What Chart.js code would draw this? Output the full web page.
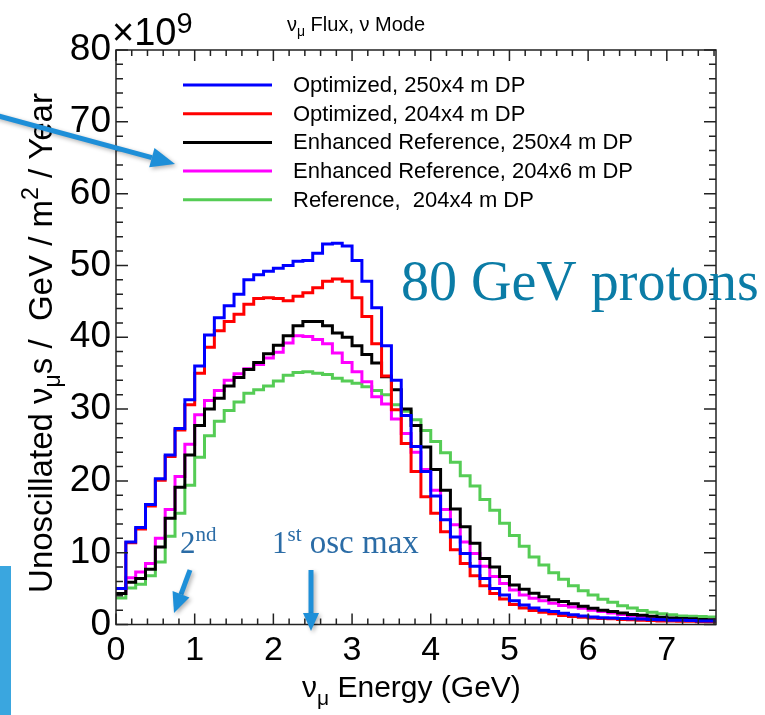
<!DOCTYPE html>
<html>
<head>
<meta charset="utf-8">
<script src="https://cdn.jsdelivr.net/npm/chart.js@4.4.0/dist/chart.umd.min.js"></script>
<style>
  body { margin: 0; background: #fff; }
  #wrap { position: relative; width: 765px; height: 715px; }
</style>
</head>
<body>
<div id="wrap"><canvas id="flux" width="765" height="715"></canvas></div>
<script>
// histogram binning (GeV)
const binWidth = 0.125;
const xMax = 7.625;

const seriesNames = [
    'Optimized, 250x4 m DP',
    'Optimized, 204x4 m DP',
    'Enhanced Reference, 250x4 m DP',
    'Enhanced Reference, 204x6 m DP',
    'Reference,  204x4 m DP'
];
const seriesColors = ['#0000ff', '#ff0000', '#000000', '#ff00ff', '#55cc55'];

// flux per bin, units of 1e9
const optimized250 = [5.0, 11.5, 13.5, 16.7, 20.3, 23.6, 27.3, 31.3, 36.0, 40.3,
    42.7, 44.4, 46.0, 48.0, 48.7, 49.2, 49.6, 50.0, 50.6, 50.7,
    51.7, 53.0, 53.1, 52.7, 50.7, 47.8, 44.1, 38.8, 34.0, 29.1,
    24.8, 21.3, 17.9, 14.6, 12.2, 9.9, 8.1, 6.4, 5.0, 4.1,
    3.3, 2.7, 2.3, 2.0, 1.8, 1.55, 1.35, 1.2, 1.05, 0.95,
    0.9, 0.85, 0.8, 0.75, 0.7, 0.65, 0.6, 0.6, 0.55, 0.5, 0.5];
const optimized204 = [5.0, 11.4, 13.3, 16.5, 20.1, 23.4, 27.1, 30.6, 35.0, 38.6,
    40.9, 42.2, 43.2, 44.6, 45.4, 45.5, 45.4, 45.1, 45.7, 46.2,
    46.9, 47.8, 48.1, 47.8, 45.5, 42.9, 39.1, 34.6, 29.9, 25.2,
    21.3, 17.8, 15.5, 12.9, 10.4, 8.5, 6.8, 5.4, 4.3, 3.55,
    2.8, 2.3, 1.95, 1.7, 1.5, 1.25, 1.1, 1.0, 0.9, 0.85,
    0.8, 0.7, 0.65, 0.6, 0.55, 0.5, 0.5, 0.45, 0.45, 0.4, 0.4];
const enhanced250 = [4.3, 5.9, 6.4, 7.7, 10.8, 14.8, 19.1, 23.6, 27.7, 30.0,
    31.5, 33.2, 34.4, 35.5, 36.5, 37.7, 38.9, 40.2, 41.6, 42.2,
    42.2, 41.6, 40.6, 40.0, 38.8, 37.6, 36.4, 34.5, 32.7, 30.0,
    27.7, 24.7, 21.6, 18.7, 16.1, 13.6, 11.3, 9.2, 8.0, 6.7,
    5.5, 4.9, 4.35, 3.85, 3.45, 3.2, 2.9, 2.55, 2.25, 2.0,
    1.8, 1.6, 1.4, 1.3, 1.15, 1.0, 0.9, 0.85, 0.8, 0.7, 0.65];
const enhanced204 = [4.3, 6.5, 7.3, 8.5, 12.0, 16.0, 20.6, 25.1, 29.2, 31.2,
    32.6, 34.0, 34.9, 35.6, 36.2, 37.1, 37.9, 39.2, 40.2, 40.1,
    39.7, 39.1, 37.8, 36.5, 35.2, 33.8, 31.7, 30.7, 28.6, 26.6,
    24.0, 21.6, 18.7, 16.0, 13.9, 11.5, 9.9, 8.1, 6.7, 5.7,
    4.8, 4.1, 3.65, 3.3, 2.95, 2.65, 2.45, 2.25, 2.0, 1.8,
    1.6, 1.4, 1.25, 1.1, 1.0, 0.9, 0.85, 0.75, 0.7, 0.65, 0.6];
const reference204 = [3.7, 5.1, 5.6, 6.8, 8.7, 12.3, 15.5, 19.4, 23.3, 26.3,
    28.3, 29.8, 31.0, 32.2, 32.7, 33.2, 33.9, 34.7, 35.1, 35.2,
    35.0, 34.8, 34.3, 33.9, 33.6, 33.1, 32.6, 32.0, 30.6, 29.7,
    28.5, 27.0, 25.5, 23.9, 22.6, 20.7, 19.3, 17.4, 15.9, 14.1,
    12.4, 10.9, 9.4, 8.3, 7.2, 6.3, 5.4, 4.7, 4.1, 3.5,
    3.1, 2.6, 2.3, 1.95, 1.7, 1.5, 1.35, 1.2, 1.15, 1.1, 1.05];

const yTickLabels = [0, 10, 20, 30, 40, 50, 60, 70, 80];
const xTickLabels = [0, 1, 2, 3, 4, 5, 6, 7];

const allSeries = [optimized250, optimized204, enhanced250, enhanced204, reference204];

// bin lower edges, plus closing point at the last upper edge
var toSteps = function(values) {
    const pts = values.map((v, i) => ({ x: i * binWidth, y: v }));
    pts.push({ x: values.length * binWidth, y: values[values.length - 1] });
    return pts;
};

var drawParts = function(ctx, parts, x, y, center) {
    let total = 0;
    parts.forEach(p => { ctx.font = p.font; total += ctx.measureText(p.t).width; });
    if (center) x -= total / 2;
    parts.forEach(p => {
        ctx.font = p.font;
        ctx.fillText(p.t, x, y + (p.dy || 0));
        x += ctx.measureText(p.t).width;
    });
};

var arrow = function(ctx, x1, y1, x2, y2, head, half) {
    const ang = Math.atan2(y2 - y1, x2 - x1);
    const bx = x2 - head * Math.cos(ang), by = y2 - head * Math.sin(ang);
    ctx.beginPath();
    ctx.moveTo(x1, y1);
    ctx.lineTo(bx, by);
    ctx.stroke();
    ctx.beginPath();
    ctx.moveTo(x2, y2);
    ctx.lineTo(bx + half * Math.sin(ang), by - half * Math.cos(ang));
    ctx.lineTo(bx - half * Math.sin(ang), by + half * Math.cos(ang));
    ctx.closePath();
    ctx.fill();
};

const framePlugin = {
    id: 'framePlugin',
    beforeDraw(chart) {
        const ctx = chart.ctx;
        ctx.save();
        ctx.fillStyle = '#ffffff';
        ctx.fillRect(0, 0, chart.width, chart.height);
        // slide background strip
        ctx.fillStyle = '#3aa6df';
        ctx.fillRect(0, 566, 11, 149);
        ctx.restore();
    },
    afterDraw(chart) {
        const { ctx, chartArea: a, scales: { x, y } } = chart;
        ctx.save();
        ctx.strokeStyle = '#222';
        ctx.lineWidth = 1.5;
        ctx.strokeRect(a.left, a.top, a.right - a.left, a.bottom - a.top);
        // inward ticks on all four sides
        ctx.beginPath();
        for (let i = 0; i <= 38; i++) {
            const px = x.getPixelForValue(i * 0.2);
            const len = i % 5 === 0 ? 11 : 6;
            ctx.moveTo(px, a.bottom); ctx.lineTo(px, a.bottom - len);
            ctx.moveTo(px, a.top); ctx.lineTo(px, a.top + len);
        }
        for (let i = 0; i <= 40; i++) {
            const py = y.getPixelForValue(i * 2);
            const len = i % 5 === 0 ? 12 : 7;
            ctx.moveTo(a.left, py); ctx.lineTo(a.left + len, py);
            ctx.moveTo(a.right, py); ctx.lineTo(a.right - len, py);
        }
        ctx.stroke();

        // legend
        ctx.textBaseline = 'middle';
        ctx.font = '22px "Liberation Sans"';
        seriesNames.forEach((name, i) => {
            const ly = 85 + i * 28.7;
            ctx.strokeStyle = seriesColors[i];
            ctx.lineWidth = 3;
            ctx.beginPath();
            ctx.moveTo(183, ly); ctx.lineTo(272, ly);
            ctx.stroke();
            ctx.fillStyle = '#000';
            ctx.fillText(name, 293, ly + 1);
        });

        ctx.textBaseline = 'alphabetic';
        ctx.fillStyle = '#000';
        // title
        drawParts(ctx, [
            { t: 'ν', font: '20px "Liberation Sans"' },
            { t: 'μ', font: '14px "Liberation Sans"', dy: 5 },
            { t: ' Flux, ν Mode', font: '20px "Liberation Sans"' }
        ], 287, 31, false);
        // exponent
        drawParts(ctx, [
            { t: '×10', font: '38px "Liberation Sans"' },
            { t: '9', font: '29px "Liberation Sans"', dy: -12 }
        ], 112, 45, false);
        // x title
        drawParts(ctx, [
            { t: 'ν', font: '30px "Liberation Sans"' },
            { t: 'μ', font: '21px "Liberation Sans"', dy: 8 },
            { t: ' Energy (GeV)', font: '30px "Liberation Sans"' }
        ], 302, 697, false);
        // y title
        ctx.save();
        ctx.translate(52, 343);
        ctx.rotate(-Math.PI / 2);
        drawParts(ctx, [
            { t: 'Unoscillated ν', font: '33px "Liberation Sans"' },
            { t: 'μ', font: '23px "Liberation Sans"', dy: 8 },
            { t: 's /  GeV / m', font: '33px "Liberation Sans"' },
            { t: '2', font: '23px "Liberation Sans"', dy: -14 },
            { t: ' / Year', font: '33px "Liberation Sans"' }
        ], 0, 0, true);
        ctx.restore();

        // annotations
        ctx.fillStyle = '#0b7ca6';
        ctx.font = '56px "Liberation Serif"';
        ctx.fillText('80 GeV protons', 401, 300);
        ctx.fillStyle = '#2b6ca6';
        drawParts(ctx, [
            { t: '2', font: '31px "Liberation Serif"' },
            { t: 'nd', font: '21px "Liberation Serif"', dy: -12 }
        ], 180, 553, false);
        drawParts(ctx, [
            { t: '1', font: '31px "Liberation Serif"' },
            { t: 'st', font: '21px "Liberation Serif"', dy: -12 },
            { t: ' osc max', font: '33px "Liberation Serif"' }
        ], 272, 553, false);

        // arrows
        ctx.strokeStyle = '#1e8fd8';
        ctx.fillStyle = '#1e8fd8';
        ctx.lineWidth = 5;
        ctx.shadowColor = 'rgba(0,0,0,0.3)';
        ctx.shadowBlur = 4;
        ctx.shadowOffsetX = 2;
        ctx.shadowOffsetY = 2;
        arrow(ctx, -5, 115, 175, 164, 24, 10);
        arrow(ctx, 190, 570, 174, 613, 20, 9);
        arrow(ctx, 311, 570, 311, 631, 18, 8);
        ctx.restore();
    }
};

Chart.defaults.font.family = '"Liberation Sans"';
Chart.defaults.color = '#000';

const ctx = document.getElementById('flux').getContext('2d');
const fluxChart = new Chart(ctx, {
    type: 'line',
    data: {
        datasets: allSeries.map((vals, i) => ({
            label: seriesNames[i],
            data: toSteps(vals),
            borderColor: seriesColors[i],
            backgroundColor: seriesColors[i],
            borderWidth: 3,
            stepped: 'before',
            pointRadius: 0,
            fill: false,
            borderJoinStyle: 'miter'
        }))
    },
    options: {
        responsive: false,
        animation: false,
        events: [],
        layout: { padding: { left: 0, right: 49, top: 50, bottom: 0 } },
        plugins: {
            legend: { display: false },
            tooltip: { enabled: false },
            title: { display: false }
        },
        scales: {
            x: {
                type: 'linear',
                min: 0,
                max: xMax,
                grid: { display: false, drawTicks: false },
                border: { display: false },
                afterBuildTicks: s => { s.ticks = xTickLabels.map(v => ({ value: v })); },
                afterFit: s => { s.height = 90.5; },
                ticks: {
                    font: { size: 34 },
                    padding: 6,
                    maxRotation: 0,
                    autoSkip: false,
                    callback: v => String(v)
                }
            },
            y: {
                min: 0,
                max: 80,
                grid: { display: false, drawTicks: false },
                border: { display: false },
                afterBuildTicks: s => { s.ticks = yTickLabels.map(v => ({ value: v })); },
                afterFit: s => { s.width = 116; },
                ticks: {
                    font: { size: 37 },
                    padding: 5,
                    callback: v => String(v)
                }
            }
        }
    },
    plugins: [framePlugin]
});
</script>
</body>
</html>
